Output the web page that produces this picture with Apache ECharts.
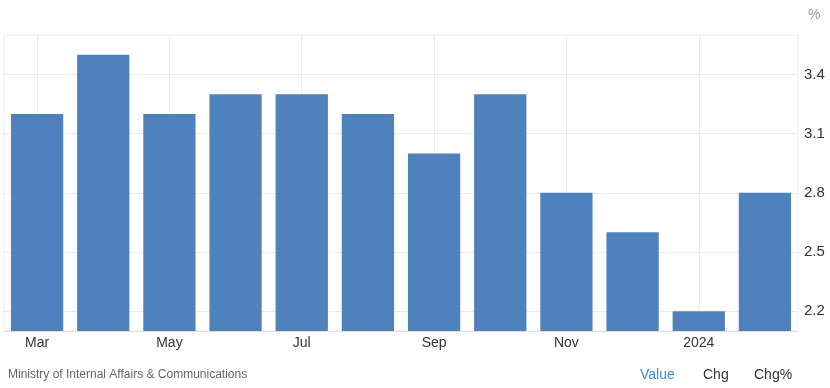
<!DOCTYPE html>
<html><head><meta charset="utf-8">
<script src="https://cdn.jsdelivr.net/npm/echarts@6/dist/echarts.min.js"></script>
<style>html,body{margin:0;padding:0;background:#fff}#c{width:830px;height:388px}</style>
</head><body><div id="c"></div>
<script>
const categories = ['Mar','Apr','May','Jun','Jul','Aug','Sep','Oct','Nov','Dec','2024','Feb'];
const values = [3.2,3.5,3.2,3.3,3.3,3.2,3.0,3.3,2.8,2.6,2.2,2.8];
const yTicks = [2.2,2.5,2.8,3.1,3.4];
const xGridCats = ['Mar','May','Jul','Sep','Nov','2024'];
const FONT = 'Arial, "Liberation Sans", sans-serif';
const chart = echarts.init(document.getElementById('c'));
chart.setOption({
  animation:false,
  grid:{left:4,right:32,top:35,bottom:57,show:true,borderColor:'#ececec',borderWidth:1},
  xAxis:{type:'category',data:categories,
    axisLine:{lineStyle:{color:'#dedede'}},axisTick:{show:false},
    axisLabel:{interval:1,color:'#333',fontSize:14,fontFamily:FONT,margin:5},
    splitLine:{show:false}},
  yAxis:{type:'value',position:'right',min:2.1,max:3.6,interval:0.1,
    axisLine:{show:false},axisTick:{show:false},splitLine:{show:false},
    axisLabel:{color:'#333',fontSize:15,fontFamily:FONT,margin:6,
      formatter:v=>{const r=Math.round(v*10);return yTicks.some(t=>Math.round(t*10)===r)?v.toFixed(1):'';}}},
  series:[
    {type:'line',data:[],z:0,zlevel:0,silent:true,
      markLine:{silent:true,z:0,symbol:'none',label:{show:false},
        lineStyle:{color:'#ececec',type:'solid',width:1},
        data:[...yTicks.map(t=>({yAxis:t})),...xGridCats.map(c=>({xAxis:c}))]}},
    {type:'bar',data:values,z:2,zlevel:1,barCategoryGap:'21%',itemStyle:{color:'#4f81bd'}}
  ],
  graphic:[
    {type:'text',left:808,top:8,style:{text:'%',fill:'#999',font:'14px '+FONT}},
    {type:'text',left:8,top:369,style:{text:'Ministry of Internal Affairs & Communications',fill:'#666',font:'12px '+FONT}},
    {type:'text',left:640,top:368,style:{text:'Value',fill:'#3c8bdb',font:'14px '+FONT}},
    {type:'text',left:703,top:368,style:{text:'Chg',fill:'#333',font:'14px '+FONT}},
    {type:'text',left:754,top:368,style:{text:'Chg%',fill:'#333',font:'14px '+FONT}}
  ]
});
</script></body></html>
